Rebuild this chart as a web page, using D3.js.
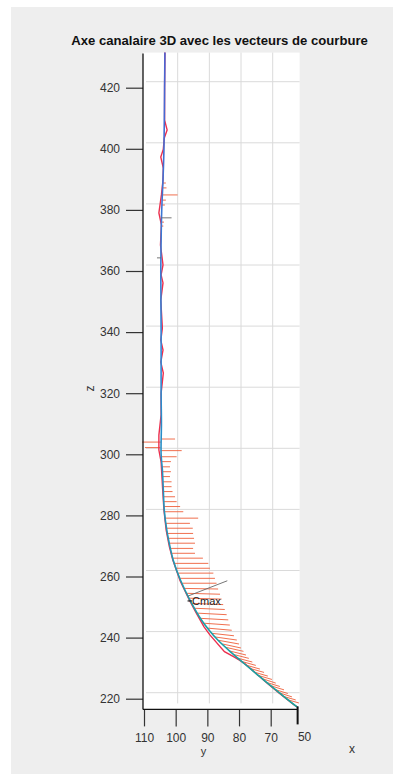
<!DOCTYPE html>
<html>
<head>
<meta charset="utf-8">
<script src="https://cdnjs.cloudflare.com/ajax/libs/d3/7.8.5/d3.min.js"></script>
<style>
  html, body { margin: 0; padding: 0; background: #fff; }
  svg { display: block; font-family: "Liberation Sans", Arial, sans-serif; }
</style>
</head>
<body>
<div id="chart"></div>
<script>
// tick labels
const zTicks = [220, 240, 260, 280, 300, 320, 340, 360, 380, 400, 420];
const yTicks = [110, 100, 90, 80, 70];
const depthTicks = [50];

// smoothed canal axis (blue)
const axisZ = [431.5, 420, 400, 390, 380, 370, 360, 340, 320, 310,
  300, 294.9, 288.3, 281.7, 275.2, 269.8, 265.4, 258.6, 252.3, 245.7,
  242.5, 239.2, 234.9, 231.6, 228.3, 225.0, 221.8, 217.9, 217.3];
const axisY = [103.4, 103.5, 103.7, 104.0, 104.4, 104.6, 104.7, 104.6, 104.6, 104.5,
  104.6, 104.2, 103.9, 103.6, 102.8, 101.8, 100.8, 98.4, 95.5, 91.8,
  89.5, 86.7, 82.2, 78.5, 74.7, 70.9, 67.1, 62.4, 61.6];

// raw canal axis (red)
const rawZ = [431.5, 420, 409.4, 406.2, 403.5, 399.9, 397.3, 393.7, 389.8, 384.9,
  379.0, 375.1, 368.5, 362.0, 358.7, 356.1, 350.5, 341.3, 337.4, 334.1,
  330.2, 326.6, 320.0, 312.9, 306.3, 301.4, 297.5, 288.3, 281.7, 275.2,
  269.8, 265.4, 258.6, 252.3, 248.4, 243.6, 240.9, 235.4, 233.7, 232.7,
  231.4, 228.3, 225.0, 221.8, 217.9, 217.3];
const rawY = [103.4, 103.5, 103.5, 102.7, 103.6, 103.9, 104.7, 103.9, 104.0, 104.5,
  105.3, 104.5, 104.8, 104.0, 104.6, 104.0, 104.7, 104.2, 104.7, 104.0,
  104.7, 103.9, 104.6, 104.6, 105.3, 105.3, 104.6, 104.1, 103.7, 103.0,
  102.0, 100.9, 98.6, 95.7, 93.7, 91.1, 89.2, 84.6, 81.6, 80.0,
  78.1, 74.7, 71.0, 67.3, 62.5, 61.6];

// curvature vectors: base point on the axis and tip
const vecBaseZ = [388.8, 387.2, 384.9, 383.2, 381.6, 376.0, 374.7, 305.0, 304.0, 302.2, 301.2, 299.2,
  297.6, 295.9, 294.3, 292.7, 291.0, 289.4, 287.8, 286.1, 284.5, 282.9, 281.2, 279.1, 277.4, 275.8,
  274.1, 272.5, 270.9, 269.2, 267.6, 266.0, 264.3, 262.7, 261.1, 259.4, 257.8, 256.1, 254.5, 252.9,
  251.2, 249.6, 248.0, 246.3, 244.7, 243.1, 241.4,
  240.2, 239.1, 237.9, 236.8, 235.6, 234.5, 233.3, 232.2, 231.0, 229.9, 228.7, 227.6, 226.5, 225.3,
  224.2, 223.0, 221.9, 220.7, 219.6];
const vecBaseY = [104.2, 104.2, 104.2, 104.3, 104.3, 104.5, 104.5, 104.6, 104.6, 104.8, 104.8, 104.6,
  104.45, 104.3, 104.2, 104.1, 104.0, 104.0, 103.9, 103.8, 103.7, 103.7, 103.6, 103.3, 103.1, 102.9,
  102.6, 102.3, 102.0, 101.7, 101.3, 100.9, 100.4, 99.8, 99.2, 98.6, 97.9, 97.2, 96.5, 95.7,
  94.9, 94.0, 93.0, 92.1, 91.0, 89.9, 88.6,
  87.5, 86.4, 85.2, 84.1, 82.9, 81.8, 80.5, 79.2, 77.8, 76.5, 75.2, 73.9, 72.5, 71.2,
  69.9, 68.6, 67.2, 65.8, 64.4];
const vecTipZ = [388.8, 387.2, 384.9, 383.2, 381.6, 376.0, 374.7, 305.0, 304.0, 302.2, 301.2, 299.2,
  297.6, 295.9, 294.3, 292.7, 291.0, 289.4, 287.8, 286.1, 284.5, 282.9, 281.2, 279.1, 277.4, 275.8,
  274.1, 272.5, 270.9, 269.2, 267.6, 266.0, 264.3, 262.7, 261.1, 259.4, 257.8, 255.9, 254.2, 252.6,
  250.8, 249.2, 247.5, 245.8, 244.1, 242.4, 240.6,
  239.2, 237.9, 236.6, 235.5, 234.3, 233.2, 232.0, 230.9, 229.7, 228.6, 227.4, 226.3, 225.1, 224.0,
  222.9, 221.7, 220.6, 219.6, 218.6];
const vecTipY = [103.1, 102.9, 99.4, 103.1, 103.4, 103.7, 103.9, 100.2, 110.6, 109.7, 98.1, 99.7,
  101.5, 101.8, 101.5, 101.8, 101.3, 101.3, 101.0, 100.2, 99.7, 98.6, 97.6, 92.9, 95.5, 94.6,
  94.5, 94.2, 93.9, 94.5, 93.9, 91.4, 89.7, 89.2, 88.1, 87.6, 87.1, 86.6, 86.0, 85.5,
  85.0, 84.5, 83.9, 83.4, 82.9, 82.3, 81.6,
  80.7, 80.0, 79.4, 78.6, 77.8, 76.9, 75.8, 74.7, 73.4, 72.1, 70.9, 69.6, 68.4, 67.1,
  65.8, 64.6, 63.3, 62.1, 61.1];

// other vectors drawn in grey (incl. the maximum curvature one)
const greyBaseZ = [377.4, 364.3, 253.6];
const greyBaseY = [104.5, 104.6, 96.1];
const greyTipZ = [377.4, 364.3, 258.6];
const greyTipY = [101.3, 105.9, 83.7];

// Cmax location
const cmaxZ = 252.0;
const cmaxY = 95.3;

const width = 393, height = 774;

const svg = d3.select('#chart').append('svg')
  .attr('width', width)
  .attr('height', height);

const zScale = d3.scaleLinear().domain([220, 420]).range([698.7, 87.7]);
const yScale = d3.scaleLinear().domain([110, 70]).range([144, 270.7]);

const zTop = 431.5, zBottom = 216.5;
const yLeft = 110, yRight = 61.5;
const x0 = yScale(yLeft) - 1, x1 = yScale(yRight);
const plotTop = zScale(zTop), plotBottom = zScale(zBottom);

// figure background
svg.append('rect').attr('x', 11).attr('y', 7)
  .attr('width', width - 11).attr('height', height - 7)
  .attr('fill', '#eeeeee');

// axes box
svg.append('rect')
  .attr('x', x0).attr('y', plotTop)
  .attr('width', x1 - x0 + 2).attr('height', plotBottom - plotTop)
  .attr('fill', '#ffffff');

// back plane grid (shifted by the 3D view)
const grid = svg.append('g').attr('stroke', '#dadada').attr('stroke-width', 1);
grid.selectAll('.gh').data(zTicks).join('line')
  .attr('x1', x0 + 3).attr('x2', x1 + 2)
  .attr('y1', d => zScale(d) - 6).attr('y2', d => zScale(d) - 6);
grid.selectAll('.gv').data(yTicks.slice(1)).join('line')
  .attr('x1', d => yScale(d) + 2).attr('x2', d => yScale(d) + 2)
  .attr('y1', plotTop).attr('y2', plotBottom - 6);

// curvature vectors
const vecs = d3.range(vecBaseZ.length);
svg.append('g').selectAll('line').data(vecs).join('line')
  .attr('x1', i => yScale(vecBaseY[i])).attr('y1', i => zScale(vecBaseZ[i]))
  .attr('x2', i => yScale(vecTipY[i])).attr('y2', i => zScale(vecTipZ[i]))
  .attr('stroke', '#ee5f3a').attr('stroke-width', 0.9);

// raw axis
const rawLine = d3.line()
  .x(i => yScale(rawY[i])).y(i => zScale(rawZ[i]));
svg.append('path')
  .attr('d', rawLine(d3.range(rawZ.length)))
  .attr('fill', 'none').attr('stroke', '#ec2f4e').attr('stroke-width', 1.4);

// smoothed axis, blue to teal
const defs = svg.append('defs');
const grad = defs.append('linearGradient').attr('id', 'axisGrad')
  .attr('gradientUnits', 'userSpaceOnUse')
  .attr('x1', 0).attr('x2', 0).attr('y1', plotTop).attr('y2', plotBottom);
grad.append('stop').attr('offset', '0%').attr('stop-color', '#4a63d2');
grad.append('stop').attr('offset', '45%').attr('stop-color', '#2f86d6');
grad.append('stop').attr('offset', '100%').attr('stop-color', '#14a79c');

const axisLine = d3.line()
  .x(i => yScale(axisY[i])).y(i => zScale(axisZ[i]))
  .curve(d3.curveCatmullRom);
svg.append('path')
  .attr('d', axisLine(d3.range(axisZ.length)))
  .attr('fill', 'none').attr('stroke', 'url(#axisGrad)').attr('stroke-width', 1.6);

// grey vectors
svg.append('g').selectAll('line').data(d3.range(greyBaseZ.length)).join('line')
  .attr('x1', i => yScale(greyBaseY[i])).attr('y1', i => zScale(greyBaseZ[i]))
  .attr('x2', i => yScale(greyTipY[i])).attr('y2', i => zScale(greyTipZ[i]))
  .attr('stroke', '#666').attr('stroke-width', 0.9);

// Cmax marker and label
const cx = yScale(cmaxY), cy = zScale(cmaxZ);
svg.append('line')
  .attr('x1', cx - 3).attr('x2', cx + 1.5).attr('y1', cy).attr('y2', cy)
  .attr('stroke', '#222').attr('stroke-width', 1.2);
svg.append('text')
  .attr('x', cx + 1.5).attr('y', cy + 4)
  .attr('font-size', 11).attr('fill', '#222')
  .text('Cmax');

// left axis (z)
const zAxis = d3.axisLeft(zScale).tickValues(zTicks).tickSize(17).tickSizeOuter(0).tickPadding(6);
const gz = svg.append('g').attr('transform', `translate(${x0},0)`).call(zAxis);
gz.select('.domain').remove();
gz.selectAll('.tick line').attr('stroke', '#333').attr('stroke-width', 1.2);
gz.selectAll('.tick text').attr('fill', '#333').attr('font-size', 12)
  .style('font-family', '"Liberation Sans", Arial, sans-serif');

// bottom axis (y)
const yAxis = d3.axisBottom(yScale).tickValues(yTicks).tickSize(17).tickSizeOuter(0).tickPadding(7);
const gy = svg.append('g').attr('transform', `translate(0,${plotBottom})`).call(yAxis);
gy.select('.domain').remove();
gy.selectAll('.tick line').attr('stroke', '#333').attr('stroke-width', 1.2);
gy.selectAll('.tick text').attr('fill', '#333').attr('font-size', 12)
  .style('font-family', '"Liberation Sans", Arial, sans-serif');

// axis lines
svg.append('line').attr('x1', x0).attr('x2', x0).attr('y1', plotTop + 1).attr('y2', plotBottom)
  .attr('stroke', '#111').attr('stroke-width', 1.3);
svg.append('line').attr('x1', x0).attr('x2', x1).attr('y1', plotBottom).attr('y2', plotBottom)
  .attr('stroke', '#111').attr('stroke-width', 1.3);
svg.append('line').attr('x1', x1).attr('x2', x1).attr('y1', plotBottom - 3).attr('y2', plotBottom + 15)
  .attr('stroke', '#111').attr('stroke-width', 2);

// depth axis tick label
svg.selectAll('.depth').data(depthTicks).join('text')
  .attr('x', x1 + 7).attr('y', plotBottom + 32)
  .attr('text-anchor', 'middle').attr('font-size', 12).attr('fill', '#333')
  .text(d => d);

// axis labels
svg.append('text').attr('x', yScale(91.2)).attr('y', plotBottom + 46)
  .attr('text-anchor', 'middle').attr('font-size', 11).attr('fill', '#333').text('y');
svg.append('text').attr('x', 352).attr('y', plotBottom + 44)
  .attr('text-anchor', 'middle').attr('font-size', 12).attr('fill', '#333').text('x');
svg.append('text')
  .attr('transform', `translate(94,${zScale(321.5)}) rotate(-90)`)
  .attr('text-anchor', 'middle').attr('font-size', 12).attr('fill', '#333').text('z');

// title
const title = svg.append('text')
  .attr('x', 219.5).attr('y', 45)
  .attr('text-anchor', 'middle').attr('font-weight', 'bold')
  .attr('font-size', 12).attr('fill', '#111')
  .text('Axe canalaire 3D avec les vecteurs de courbure');
const tw = title.node().getComputedTextLength();
title.attr('font-size', 12 * 297 / tw);
</script>
</body>
</html>
